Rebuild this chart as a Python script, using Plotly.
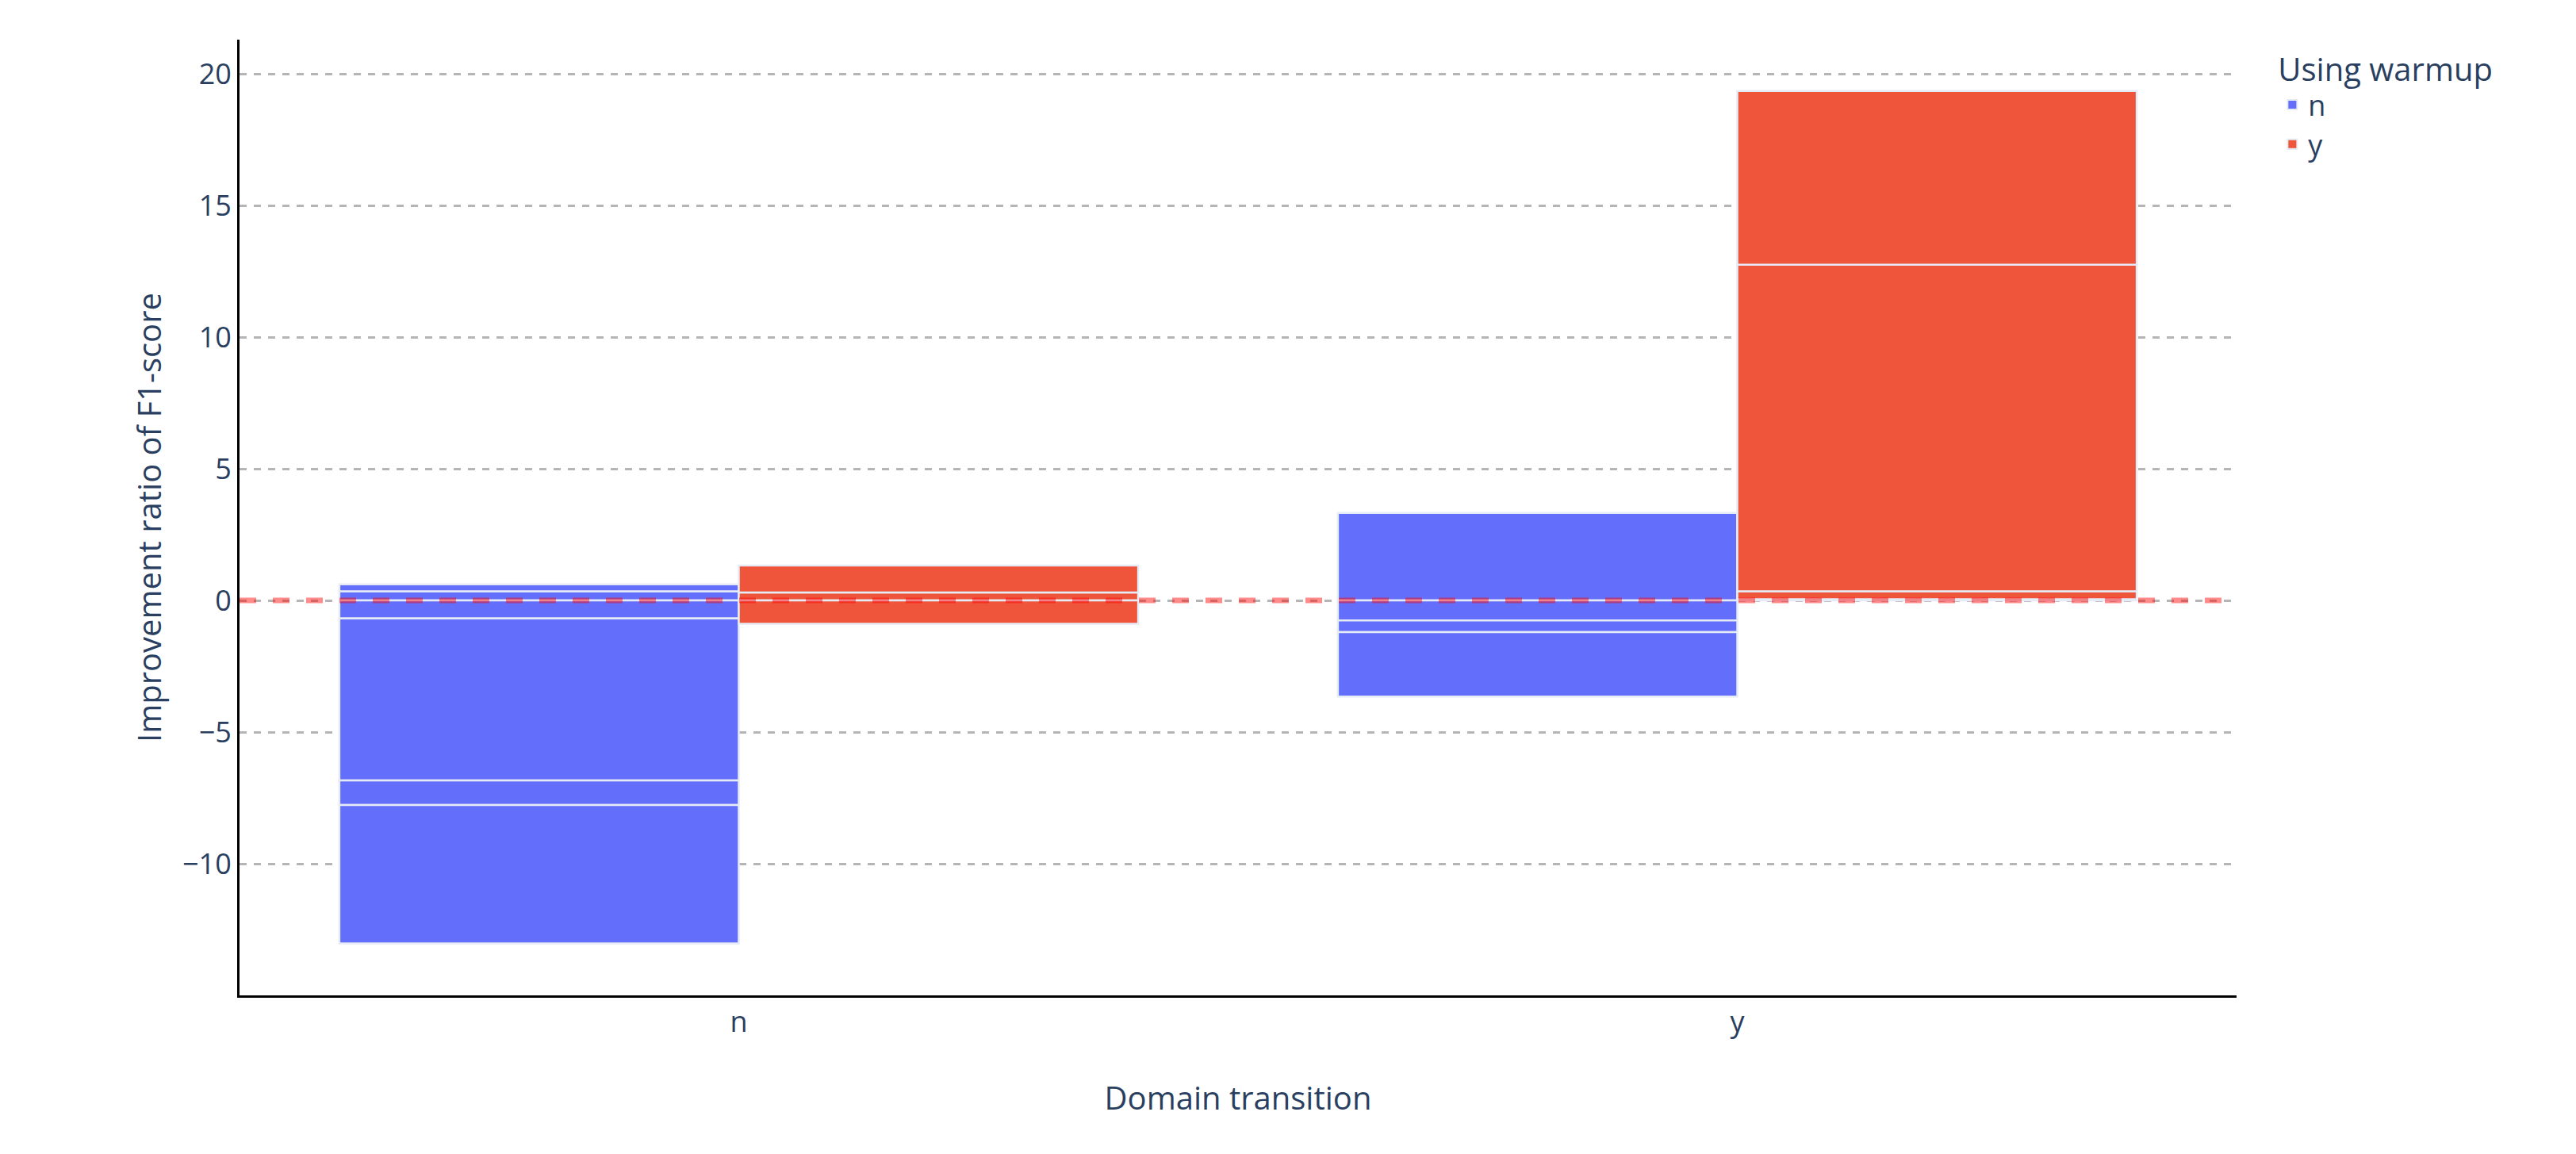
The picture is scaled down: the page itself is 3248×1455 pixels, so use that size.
import plotly.graph_objects as go

domain_no_warmup = ["n"] * 6 + ["y"] * 4
ratio_no_warmup = [0.35, 0.26, -0.68, -6.16, -0.93, -5.26, 3.32, -0.76, -0.44, -2.45]
domain_warmup = ["n"] * 3 + ["y"] * 4
ratio_warmup = [0.30, 1.03, -0.89, 0.05, 0.30, 12.4, 6.6]

font_color = "#2a3f5f"
fig = go.Figure()
fig.add_trace(go.Bar(x=domain_no_warmup, y=ratio_no_warmup, name="n", offsetgroup="n",
                     marker=dict(color="#636EFA", line=dict(color="#E5ECF6", width=2.5))))
fig.add_trace(go.Bar(x=domain_warmup, y=ratio_warmup, name="y", offsetgroup="y",
                     marker=dict(color="#EF553B", line=dict(color="#E5ECF6", width=2.5))))
fig.add_hline(y=0, line=dict(color="red", dash="dash", width=7), opacity=0.45)
fig.update_layout(
    width=3248, height=1455, barmode="relative", bargap=0.2, bargroupgap=0,
    plot_bgcolor="white", paper_bgcolor="white",
    font=dict(family="Open Sans", size=36, color=font_color),
    margin=dict(l=294, r=436, t=42, b=208),
    legend=dict(title=dict(text="Using warmup", font=dict(size=40)), font=dict(size=36),
                tracegroupgap=10, itemsizing="constant"),
    xaxis=dict(title=dict(text="Domain transition", font=dict(size=40), standoff=60),
               showline=True, linecolor="black", linewidth=3, ticks="", ),
    yaxis=dict(title=dict(text="Improvement ratio of F1-score", font=dict(size=40)),
               showline=True, linecolor="black", linewidth=3, range=[-15, 21.3],
               tickvals=[-10, -5, 0, 5, 10, 15, 20], zeroline=False,
               showgrid=True, gridcolor="#b5b5b5", griddash="dash", gridwidth=2.5),
)
fig.write_html("out.html")
